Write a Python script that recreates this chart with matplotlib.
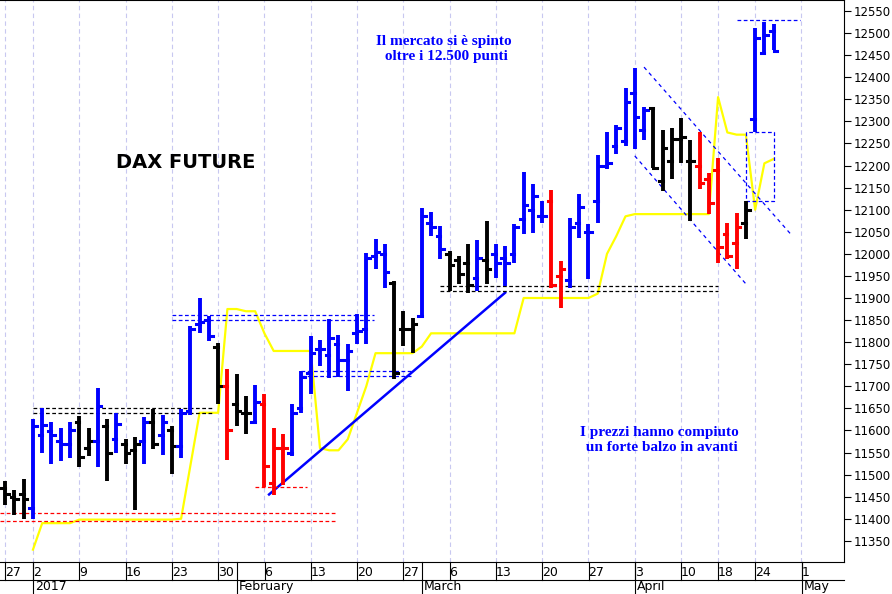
import matplotlib
matplotlib.use("Agg")
import matplotlib.pyplot as plt
import numpy as np

# trading-day index: 0 = 2 Jan 2017 (Dec 27-29 are -3..-1)
highs = [11485, 11466, 11489,
         11625, 11650, 11618, 11605, 11618, 11632, 11605, 11697, 11627, 11639,
         11580, 11586, 11630, 11648, 11636, 11609, 11648, 11836, 11900, 11859,
         11798, 11739, 11727, 11677, 11704, 11682, 11605, 11591, 11659, 11735,
         11814, 11804, 11852, 11816, 11795, 11864, 12002, 12034, 12022, 11939,
         11870, 11855, 12104, 12095, 12063, 12007, 11995, 12023, 12032, 12075,
         12023, 12018, 12068, 12186, 12159, 12120, 12145, 11984, 12082, 12136,
         12068, 12223, 12275, 12291, 12375, 12420, 12332, 12332, 12280, 12286,
         12307, 12257, 12275, 12184, 12218, 12070, 12093, 12120, 12511, 12525, 12520]
lows = [11430, 11409, 11400,
        11400, 11548, 11525, 11530, 11537, 11518, 11541, 11518, 11486, 11550,
        11525, 11420, 11525, 11557, 11545, 11502, 11537, 11636, 11820, 11802,
        11660, 11534, 11609, 11593, 11618, 11473, 11454, 11477, 11541, 11640,
        11682, 11745, 11718, 11722, 11689, 11795, 11795, 11966, 11923, 11716,
        11791, 11775, 11859, 12041, 11989, 11916, 11932, 11911, 11916, 11932,
        11945, 11927, 11979, 12045, 12048, 12070, 11923, 11877, 11923, 12036,
        11943, 12070, 12193, 12227, 12245, 12238, 12257, 12195, 12143, 12170,
        12205, 12075, 12147, 12091, 11980, 11989, 11966, 12034, 12275, 12454, 12461]
opens = [11470, 11450, 11455,
         11425, 11590, 11598, 11575, 11570, 11620, 11560, 11575, 11610, 11580,
         11570, 11555, 11575, 11620, 11590, 11600, 11565, 11645, 11840, 11850,
         11790, 11700, 11660, 11640, 11620, 11660, 11480, 11560, 11550, 11650,
         11730, 11785, 11770, 11795, 11760, 11820, 11830, 11995, 12000, 11935,
         11830, 11830, 11860, 12070, 12040, 12000, 11985, 11980, 11945, 11985,
         12000, 11990, 12000, 12080, 12100, 12085, 12120, 11950, 11940, 12070,
         12050, 12120, 12200, 12245, 12255, 12365, 12280, 12330, 12165, 12210,
         12260, 12210, 12200, 12170, 12190, 12045, 12025, 12070, 12305, 12455, 12505]
closes = [11455, 11445, 11445,
          11610, 11612, 11590, 11570, 11600, 11540, 11575, 11655, 11550, 11615,
          11550, 11570, 11620, 11570, 11620, 11565, 11640, 11830, 11845, 11815,
          11700, 11600, 11645, 11640, 11665, 11520, 11560, 11560, 11640, 11720,
          11775, 11785, 11810, 11760, 11780, 11825, 11990, 12005, 11960, 11730,
          11830, 11840, 12085, 12060, 12010, 11975, 11955, 11930, 11990, 11965,
          11980, 11980, 12060, 12110, 12130, 12085, 11930, 11965, 12060, 12105,
          12050, 12200, 12205, 12285, 12345, 12310, 12325, 12195, 12240, 12260,
          12265, 12210, 12160, 12115, 12015, 11995, 12060, 12100, 12490, 12495, 12460]
colors = list("kkk" "bbbbbkkbkb" "kkbkbkbbbb" "krkkbrrrbb" "bbbbbbbbbk"
              "kkbbbkkkbk" "bbbbbbrrbb" "bbbbbbbkkk" "kkrrrrrkbbb")
# yellow line, one value per trading day from index 0
yellow = [11330, 11390, 11390, 11390, 11390, 11398, 11398, 11398, 11398, 11398,
          11398, 11398, 11398, 11398, 11398, 11398, 11400, 11520, 11640, 11640,
          11640, 11875, 11875, 11870, 11870, 11820, 11780, 11780, 11780, 11780,
          11780, 11560, 11555, 11555, 11580, 11640, 11700, 11775, 11775, 11775,
          11775, 11775, 11790, 11820, 11820, 11820, 11820, 11820, 11820, 11820,
          11820, 11820, 11820, 11900, 11900, 11900, 11900, 11900, 11900, 11900,
          11900, 11910, 12000, 12040, 12085, 12090, 12090, 12090, 12090, 12090,
          12090, 12090, 12090, 12090, 12355, 12275, 12270, 12270, 12100, 12205, 12215]

week_idx = [-3, 0, 5, 10, 15, 20, 25, 30, 35, 40, 45, 50, 55, 60, 65, 70, 74, 78, 83]
week_lbl = ["27", "2", "9", "16", "23", "30", "6", "13", "20", "27", "6", "13",
            "20", "27", "3", "10", "18", "24", "1"]
month_idx = [0, 22, 42, 65, 83]
month_lbl = ["2017", "February", "March", "April", "May"]

fig = plt.figure(figsize=(8.92, 5.94), dpi=100)
ax = fig.add_axes([0, 32 / 594, 844 / 892, 562 / 594])
ax.set_xlim(-3.56, 87.6)
ax.set_ylim(11302, 12575)

for x in week_idx:
    ax.axvline(x, color="#c8c8f0", lw=0.8, ls=(0, (4, 3)), zorder=0)

x0 = np.arange(-3, len(highs) - 3)
cmap = {"b": "#0000ff", "k": "#000000", "r": "#ff0000"}
for x, h, l, o, c, col in zip(x0, highs, lows, opens, closes, colors):
    cc = cmap[col]
    ax.plot([x, x], [l, h], color=cc, lw=2.8, solid_capstyle="butt", zorder=3)
    ax.plot([x - 0.4, x], [o, o], color=cc, lw=2.2, zorder=3)
    ax.plot([x, x + 0.4], [c, c], color=cc, lw=2.2, zorder=3)

ax.plot(np.arange(len(yellow)), yellow, color="#ffff00", lw=1.6, zorder=2)

# trend lines
ax.plot([25.5, 51], [11455, 11912], color="#0000ff", lw=1.8, zorder=2)
ax.plot([66, 82], [12423, 12041], color="#0000ff", lw=0.9, ls=(0, (3, 3)))
ax.plot([65, 77], [12222, 11932], color="#0000ff", lw=0.9, ls=(0, (3, 3)))

def hline(y, a, b, col):
    ax.plot([a, b], [y, y], color=col, lw=0.9, ls=(0, (3, 2)), zorder=2)

hline(11414, -3.6, 32.7, "#ff0000")
hline(11396, -3.6, 32.7, "#ff0000")
hline(11473, 24, 29.6, "#ff0000")
hline(11650, 0, 19.6, "#000000")
hline(11639, 0, 19.6, "#000000")
hline(11861, 15, 36.8, "#0000ff")
hline(11850, 15, 36.8, "#0000ff")
hline(11734, 29, 40.8, "#0000ff")
hline(11723, 29, 40.8, "#0000ff")
hline(11927, 44, 74, "#000000")
hline(11916, 44, 74, "#000000")
hline(12530, 76, 82.8, "#0000ff")
ax.plot([77, 77, 80, 80, 77], [12275, 12120, 12120, 12275, 12275],
        color="#0000ff", lw=0.9, ls=(0, (3, 2)))

ax.text(16.5, 12207, "DAX FUTURE", fontsize=14, fontweight="bold", ha="center", va="center")
ax.text(44.4, 12465, "Il mercato si è spinto\n oltre i 12.500 punti", color="#0000ff",
        fontsize=11, fontweight="bold", ha="center", va="center", family="Liberation Serif")
ax.text(67.7, 11578, "I prezzi hanno compiuto\n un forte balzo in avanti", color="#0000ff",
        fontsize=11, fontweight="bold", ha="center", va="center", family="Liberation Serif")

ax.yaxis.tick_right()
ax.set_yticks(np.arange(11350, 12551, 50))
ax.tick_params(axis="y", labelsize=8.5, length=5, pad=2, direction="out")
ax.set_xticks(week_idx)
ax.set_xticklabels(week_lbl, ha="left", fontsize=9)
ax.tick_params(axis="x", length=0, pad=3)
ax.spines["left"].set_visible(False)

# month row
fig.add_artist(plt.Line2D([0, 844 / 892], [14 / 594, 14 / 594], color="black", lw=0.8))
for m, lbl in zip(month_idx, month_lbl):
    xf = (33 + 9.26 * m) / 892
    fig.add_artist(plt.Line2D([xf, xf], [0, 32 / 594], color="black", lw=0.8))
    fig.text(xf + 2 / 892, 1 / 594, lbl, fontsize=9, va="bottom")
for x in week_idx:
    xf = (33 + 9.26 * x) / 892
    fig.add_artist(plt.Line2D([xf, xf], [14 / 594, 32 / 594], color="black", lw=0.8))

fig.savefig("out.png", dpi=100)
